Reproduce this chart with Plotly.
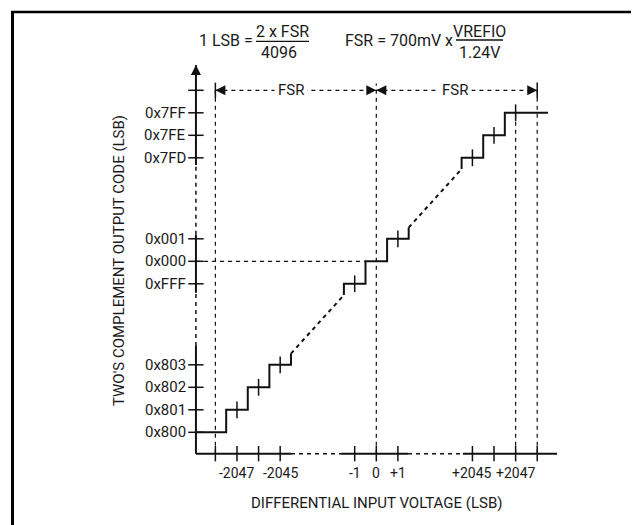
import plotly.graph_objects as go

# output codes on the y axis and their signed (two's complement) values
code_labels = ["0x800", "0x801", "0x802", "0x803", "0xFFF", "0x000", "0x001", "0x7FD", "0x7FE", "0x7FF"]
code_values = [-2048, -2047, -2046, -2045, -1, 0, 1, 2045, 2046, 2047]

# input ticks on the x axis (LSB)
lsb_ticks = [-2048, -2047, -2046, -2045, -1, 0, 1, 2045, 2046, 2047, 2048]
lsb_labels = ["", "-2047", "", "-2045", "-1", "0", "+1", "+2045", "", "+2047", ""]

# codes in each visible piece of the staircase
steps_low = [-2048, -2047, -2046, -2045]
steps_mid = [-1, 0, 1]
steps_high = [2045, 2046, 2047]
step_marks = [-2047, -2046, -2045, -1, 1, 2045, 2046, 2047]

FS = 2048  # full scale end, LSB

INK = "#111111"
FONT = "Roboto, Liberation Sans, sans-serif"

# broken axes: far ends are pulled in towards zero
GAP_X = 2040.55
GAP_Y = 2040.4


def bx(v):
    if v < -1000:
        return v + GAP_X
    if v > 1000:
        return v - GAP_X
    return v


def by(v):
    if v < -1000:
        return v + GAP_Y
    if v > 1000:
        return v - GAP_Y
    return v


# where the axes sit (in broken-axis units)
AX_X = -8.35
AX_Y = -8.55
Y_TOP = 8.72
X_END = 8.37

fig = go.Figure()


def seg(xs, ys, dash="solid", width=2, shape="linear"):
    fig.add_trace(go.Scatter(x=xs, y=ys, mode="lines",
                             line=dict(color=INK, width=width, dash=dash, shape=shape),
                             hoverinfo="skip", showlegend=False))


def marks(xs, ys, symbol, size=11, width=1.5):
    fig.add_trace(go.Scatter(x=xs, y=ys, mode="markers",
                             marker=dict(symbol=symbol, size=size, color=INK,
                                         line=dict(color=INK, width=width)),
                             hoverinfo="skip", showlegend=False))


# staircase pieces
def stair(codes, x_start=None, x_end=None):
    xs = [bx(codes[0] - 0.5) if x_start is None else x_start]
    ys = [by(codes[0] - 0.5) if x_start is None else by(codes[0])]
    for c in codes:
        xs.append(bx(c + 0.5))
        ys.append(by(c))
    if x_end is None:
        xs.append(bx(codes[-1] + 0.5))
        ys.append(by(codes[-1] + 0.5))
    else:
        xs[-1] = x_end
    seg(xs, ys, shape="vh")


stair(steps_low, x_start=AX_X)
stair(steps_mid)
stair(steps_high, x_end=bx(FS + 0.5))

# ideal line between the pieces
seg([bx(steps_low[-1] + 0.5), bx(steps_mid[0] - 0.5)],
    [by(steps_low[-1] + 0.5), by(steps_mid[0] - 0.5)], dash="4px,4px", width=2)
seg([bx(steps_mid[-1] + 0.5), bx(steps_high[0] - 0.5)],
    [by(steps_mid[-1] + 0.5), by(steps_high[0] - 0.5)], dash="4px,4px", width=2)

marks([bx(v) for v in step_marks], [by(v) for v in step_marks], "line-ns", size=12)

# guide lines
for v, top in [(-FS, by(FS)), (0, by(FS) + 0.3), (FS - 1, by(FS - 1)), (FS, by(FS))]:
    seg([bx(v), bx(v)], [AX_Y, top], dash="4px,4px", width=1.2)
seg([AX_X, bx(-0.5)], [0, 0], dash="4px,4px", width=1.2)
seg([bx(-FS), bx(FS)], [by(FS), by(FS)], dash="4px,4px", width=1.2)
marks([bx(-FS), bx(FS)], [by(FS), by(FS)], "line-ns", size=11)
marks([bx(-FS), bx(0)], [by(FS), by(FS)], "arrow-left", size=10, width=0)
marks([bx(0), bx(FS)], [by(FS), by(FS)], "arrow-right", size=10, width=0)

# broken axes
for lo, hi, d in [(AX_Y, -3.76, "solid"), (-3.76, -1.4, "4px,4px"), (-1.4, 1.18, "solid"),
                  (1.18, 4.28, "4px,4px"), (4.28, Y_TOP, "solid")]:
    seg([AX_X, AX_X], [lo, hi], dash=d, width=2 if d == "solid" else 1.5)
for lo, hi, d in [(AX_X, -3.95, "solid"), (-3.95, -1.63, "4px,4px"), (-1.63, 1.47, "solid"),
                  (1.47, 4.01, "4px,4px"), (4.01, X_END, "solid")]:
    seg([lo, hi], [AX_Y, AX_Y], dash=d, width=2 if d == "solid" else 1.5)
marks([AX_X], [Y_TOP], "arrow-up", size=10, width=0)
marks([AX_X] * (len(code_values) + 1), [by(c) for c in code_values] + [by(FS)], "line-ew", size=11)
marks([bx(v) for v in lsb_ticks], [AX_Y] * len(lsb_ticks), "line-ns", size=11)

ann = []
for lab, c in zip(code_labels, code_values):
    ann.append(dict(x=AX_X, y=by(c), text=lab, xanchor="right", yanchor="middle",
                    xshift=-8, showarrow=False))
for lab, v in zip(lsb_labels, lsb_ticks):
    if lab:
        ann.append(dict(x=bx(v), y=AX_Y, text=lab, xanchor="center", yanchor="middle",
                        yshift=-19, showarrow=False, font=dict(size=14)))


def pp(x, y):
    return x / 639, 1 - y / 525


def note(x, y, text, **kw):
    px, py = pp(x, y)
    ann.append(dict(x=px, y=py, xref="paper", yref="paper", text=text,
                    showarrow=False, xanchor=kw.pop("xanchor", "center"),
                    yanchor="middle", **kw))


F16 = dict(size=16)
note(283.3, 81.7, "FSR", bgcolor="white", borderpad=3)
note(446.7, 81.7, "FSR", bgcolor="white", borderpad=3)
note(247, 33, "1 LSB =", xanchor="right", font=F16)
note(274.5, 23.5, "2 x FSR", font=F16)
note(271, 44.5, "4096", font=F16)
note(447, 33, "FSR = 700mV x", xanchor="right", font=F16)
note(471.5, 23.5, "VREFIO", font=F16)
note(471, 44.5, "1.24V", font=F16)
note(368, 495, "DIFFERENTIAL INPUT VOLTAGE (LSB)")
note(111, 253, "TWO'S COMPLEMENT OUTPUT CODE (LSB)", textangle=-90)

shapes = [
    dict(type="line", xref="paper", yref="paper", x0=pp(248, 0)[0], x1=pp(301, 0)[0],
         y0=pp(0, 33.3)[1], y1=pp(0, 33.3)[1], line=dict(color=INK, width=1.3)),
    dict(type="line", xref="paper", yref="paper", x0=pp(448, 0)[0], x1=pp(495, 0)[0],
         y0=pp(0, 32)[1], y1=pp(0, 32)[1], line=dict(color=INK, width=1.3)),
    # outer frame
    dict(type="line", xref="paper", yref="paper", x0=pp(4.5, 0)[0], x1=pp(4.5, 0)[0],
         y0=pp(0, 3)[1], y1=pp(0, 524)[1], line=dict(color="#000000", width=3)),
    dict(type="line", xref="paper", yref="paper", x0=pp(3, 0)[0], x1=1,
         y0=pp(0, 4)[1], y1=pp(0, 4)[1], line=dict(color="#000000", width=2.5)),
    dict(type="line", xref="paper", yref="paper", x0=pp(3, 0)[0], x1=1,
         y0=pp(0, 523)[1], y1=pp(0, 523)[1], line=dict(color="#444444", width=2)),
]

fig.update_layout(
    width=639, height=525,
    margin=dict(l=0, r=0, t=0, b=0, pad=0),
    paper_bgcolor="white", plot_bgcolor="white",
    font=dict(family=FONT, size=15, color="#1a1a1a"),
    xaxis=dict(visible=False, range=[-368.3 / 21.6, (639 - 368.3) / 21.6], fixedrange=True),
    yaxis=dict(visible=False, range=[(253.3 - 525) / 22.5, 253.3 / 22.5], fixedrange=True),
    annotations=ann,
    shapes=shapes,
    showlegend=False,
)

fig.write_html("out.html")
